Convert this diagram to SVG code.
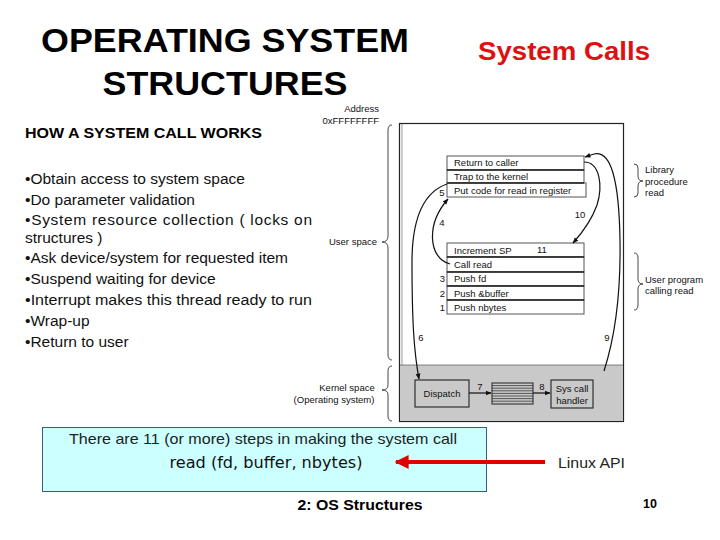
<svg xmlns="http://www.w3.org/2000/svg" width="720" height="540" viewBox="0 0 720 540">
<defs>
<marker id="ah" viewBox="0 0 10 10" refX="9" refY="5" markerWidth="6" markerHeight="6" orient="auto" markerUnits="userSpaceOnUse">
<path d="M0,1 L10,5 L0,9 z" fill="#111"/>
</marker>
<marker id="rah" viewBox="0 0 10 10" refX="9" refY="5" markerWidth="4" markerHeight="3.5" orient="auto">
<path d="M0,0 L10,5 L0,10 z" fill="#e00000"/>
</marker>
</defs>
<style>
text{font-family:"Liberation Sans",Arial,sans-serif;fill:#000}
.sm{font-size:9.5px;fill:#111}
.row{fill:#fff;stroke:#555;stroke-width:1}
.sep{stroke:#222;stroke-width:1.4}
.bul{font-size:15.5px;fill:#111}
.conn{fill:none;stroke:#111;stroke-width:1.2}
.brace{fill:none;stroke:#333;stroke-width:0.9}
</style>
<rect width="720" height="540" fill="#fff"/>

<g id="title">
<text x="225" y="52" font-size="33" font-weight="bold" text-anchor="middle" textLength="368" lengthAdjust="spacingAndGlyphs">OPERATING SYSTEM</text>
<text x="225" y="95" font-size="33" font-weight="bold" text-anchor="middle" textLength="245" lengthAdjust="spacingAndGlyphs">STRUCTURES</text>
</g>
<g id="subtitle">
<text x="564" y="60" font-size="26" font-weight="bold" text-anchor="middle" style="fill:#dd1111" textLength="172" lengthAdjust="spacingAndGlyphs">System Calls</text>
</g>

<g id="bullets">
<text x="25" y="138" font-size="15.5" font-weight="bold" textLength="237" lengthAdjust="spacingAndGlyphs">HOW A SYSTEM CALL WORKS</text>
<text class="bul" x="25" y="184">•Obtain access to system space</text>
<text class="bul" x="25" y="205">•Do parameter validation</text>
<text class="bul" x="25" y="225" textLength="287" lengthAdjust="spacing">•System resource collection ( locks on</text>
<text class="bul" x="25" y="243">structures )</text>
<text class="bul" x="25" y="263">•Ask device/system for requested item</text>
<text class="bul" x="25" y="284">•Suspend waiting for device</text>
<text class="bul" x="25" y="305" textLength="287" lengthAdjust="spacingAndGlyphs">•Interrupt makes this thread ready to run</text>
<text class="bul" x="25" y="326">•Wrap-up</text>
<text class="bul" x="25" y="347">•Return to user</text>
</g>

<g id="memory">
<rect x="399.5" y="123.5" width="224" height="298" fill="#fff" stroke="#222" stroke-width="1.2"/>
<line x1="402" y1="124" x2="402" y2="365" stroke="#999" stroke-width="1"/>
<rect x="400" y="365" width="223" height="56" fill="#c9c9c9"/>
<line x1="400" y1="365" x2="623" y2="365" stroke="#666" stroke-width="0.8"/>
<text class="sm" x="379" y="112" text-anchor="end">Address</text>
<text class="sm" x="379" y="124" text-anchor="end">0xFFFFFFFF</text>
<text class="sm" x="377" y="245" text-anchor="end">User space</text>
<text class="sm" x="347" y="391" text-anchor="middle">Kernel space</text>
<text class="sm" x="334" y="403" text-anchor="middle">(Operating system)</text>
<path class="brace" d="M392,125 Q388,125 388,130 L388,236 Q388,242 382,242 Q388,242 388,248 L388,355 Q388,360 392,360"/>
<path class="brace" d="M392,366 Q388,366 388,371 L388,385 Q388,390 382,390 Q388,390 388,395 L388,416 Q388,421 392,421"/>
</g>

<g id="library">
<rect class="row" x="447" y="156" width="137" height="14"/>
<rect class="row" x="447" y="170" width="137" height="13"/>
<rect class="row" x="447" y="183" width="139" height="14"/>
<line class="sep" x1="447" y1="170" x2="584" y2="170"/>
<line class="sep" x1="447" y1="183" x2="584" y2="183"/>
<text class="sm" x="454" y="166">Return to caller</text>
<text class="sm" x="454" y="180">Trap to the kernel</text>
<text class="sm" x="454" y="194">Put code for read in register</text>
<path class="brace" d="M634,164 Q638,164 638,168 L638,176 Q638,181 643,181 Q638,181 638,186 L638,193 Q638,197 634,197"/>
<text class="sm" x="645" y="173">Library</text>
<text class="sm" x="645" y="185">procedure</text>
<text class="sm" x="645" y="196">read</text>
</g>

<g id="userprog">
<rect class="row" x="447" y="243" width="137" height="14"/>
<rect class="row" x="447" y="257" width="137" height="15"/>
<rect class="row" x="447" y="272" width="137" height="14"/>
<rect class="row" x="447" y="286" width="137" height="14"/>
<rect class="row" x="447" y="300" width="137" height="14"/>
<line class="sep" x1="447" y1="257" x2="584" y2="257"/>
<line class="sep" x1="447" y1="272" x2="584" y2="272"/>
<line class="sep" x1="447" y1="286" x2="584" y2="286"/>
<line class="sep" x1="447" y1="300" x2="584" y2="300"/>
<text class="sm" x="454" y="254">Increment SP</text>
<text class="sm" x="537" y="253">11</text>
<text class="sm" x="454" y="268">Call read</text>
<text class="sm" x="454" y="282">Push fd</text>
<text class="sm" x="454" y="297">Push &amp;buffer</text>
<text class="sm" x="454" y="311">Push nbytes</text>
<text class="sm" x="445" y="282" text-anchor="end">3</text>
<text class="sm" x="445" y="297" text-anchor="end">2</text>
<text class="sm" x="445" y="311" text-anchor="end">1</text>
<path class="brace" d="M634,253 Q638,253 638,258 L638,279 Q638,284 643,284 Q638,284 638,289 L638,305 Q638,310 634,310"/>
<text class="sm" x="645" y="283">User program</text>
<text class="sm" x="645" y="294">calling read</text>
</g>

<g id="kernel">
<rect x="415" y="380" width="54" height="27" fill="#c9c9c9" stroke="#222" stroke-width="1.1"/>
<text class="sm" x="442" y="397" text-anchor="middle">Dispatch</text>
<rect x="492" y="383" width="41" height="21" fill="#c9c9c9" stroke="#222" stroke-width="1"/>
<g stroke="#222" stroke-width="0.7">
<line x1="492" y1="385.6" x2="533" y2="385.6"/>
<line x1="492" y1="388.2" x2="533" y2="388.2"/>
<line x1="492" y1="390.8" x2="533" y2="390.8"/>
<line x1="492" y1="393.4" x2="533" y2="393.4"/>
<line x1="492" y1="396" x2="533" y2="396"/>
<line x1="492" y1="398.6" x2="533" y2="398.6"/>
<line x1="492" y1="401.2" x2="533" y2="401.2"/>
</g>
<rect x="551" y="380" width="42" height="28" fill="#c9c9c9" stroke="#222" stroke-width="1.1"/>
<text class="sm" x="572" y="392" text-anchor="middle">Sys call</text>
<text class="sm" x="572" y="404" text-anchor="middle">handler</text>
</g>

<g id="connectors">
<path class="conn" d="M450,264 C428,258 426,224 448,199" marker-end="url(#ah)"/>
<path class="conn" d="M447,184 C424,192 412,218 412,262 C412,322 414,352 419,379" marker-end="url(#ah)"/>
<path class="conn" d="M584,162 C600,162 603,186 597,205 C591,222 582,233 573,243" marker-end="url(#ah)"/>
<path class="conn" d="M604,371 C614,340 621,300 620,240 C619,180 611,150 594,154 L585,157" marker-end="url(#ah)"/>
<line class="conn" x1="469" y1="393" x2="491" y2="393" marker-end="url(#ah)"/>
<line class="conn" x1="533" y1="393" x2="550" y2="393" marker-end="url(#ah)"/>
<text class="sm" x="442" y="196" text-anchor="middle">5</text>
<text class="sm" x="442" y="226" text-anchor="middle">4</text>
<text class="sm" x="580" y="218" text-anchor="middle">10</text>
<text class="sm" x="421" y="341" text-anchor="middle">6</text>
<text class="sm" x="607" y="341" text-anchor="middle">9</text>
<text class="sm" x="480" y="390" text-anchor="middle">7</text>
<text class="sm" x="542" y="390" text-anchor="middle">8</text>
</g>

<g id="callbox">
<rect x="42.5" y="427.5" width="444" height="64" fill="#ccffff" stroke="#3b5a8c" stroke-width="1"/>
<text x="263" y="444" font-size="14.5" text-anchor="middle" style="fill:#222" textLength="388" lengthAdjust="spacingAndGlyphs">There are 11 (or more) steps in making the system call</text>
<text x="266" y="468" font-size="16" text-anchor="middle" style="fill:#111;font-family:'DejaVu Sans',Verdana,sans-serif" textLength="193" lengthAdjust="spacingAndGlyphs">read (fd, buffer, nbytes)</text>
</g>
<g id="api-arrow">
<line x1="545" y1="462" x2="396" y2="462" stroke="#e00000" stroke-width="4" marker-end="url(#rah)"/>
<text x="558" y="468" font-size="15" style="fill:#222" textLength="67" lengthAdjust="spacingAndGlyphs">Linux API</text>
</g>
<g id="footer">
<text x="360" y="510" font-size="15.5" font-weight="bold" text-anchor="middle" textLength="125" lengthAdjust="spacingAndGlyphs">2: OS Structures</text>
<text x="650" y="508" font-size="12.5" font-weight="bold" text-anchor="middle">10</text>
</g>
</svg>
